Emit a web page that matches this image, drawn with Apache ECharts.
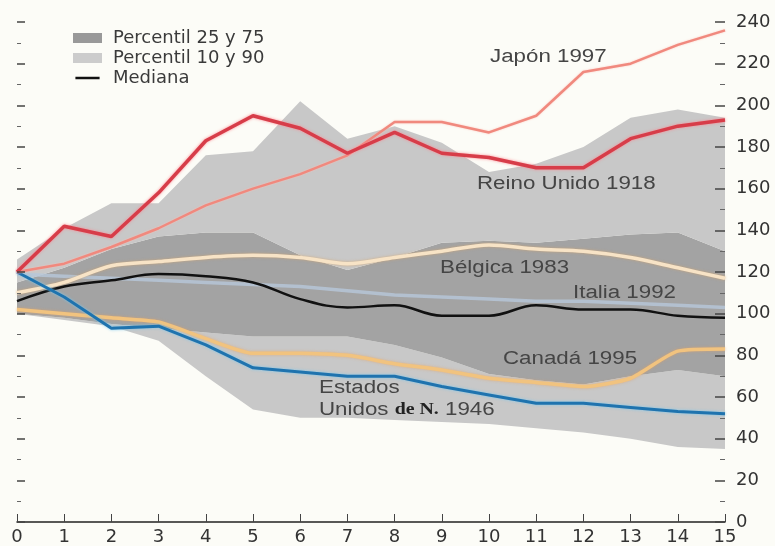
<!DOCTYPE html>
<html>
<head>
<meta charset="utf-8">
<script src="https://cdn.jsdelivr.net/npm/echarts@6/dist/echarts.min.js"></script>
<style>
html,body{margin:0;padding:0;background:#fcfcf7;}
#chart{width:775px;height:546px;}
</style>
</head>
<body>
<div id="chart"></div>
<script>
// ---- data ----
var years = ['0','1','2','3','4','5','6','7','8','9','10','11','12','13','14','15'];
var yTicks = [0,20,40,60,80,100,120,140,160,180,200,220,240];
var p10 = [100, 97, 94, 87, 70, 54, 50, 50, 49, 48, 47, 45, 43, 40, 36, 35];
var p25 = [100, 98, 95, 93, 91, 89, 89, 89, 85, 79, 71, 68, 66, 70, 73, 70];
var p75 = [115, 122, 131, 137, 139, 139, 128, 121, 127, 134, 135, 134, 136, 138, 139, 130];
var p90 = [126, 141, 153, 153, 176, 178, 202, 184, 190, 182, 168, 172, 180, 194, 198, 194];
var mediana = [106, 113, 116, 119, 118, 115, 107, 103, 104, 99, 99, 104, 102, 102, 99, 98];
var japon1997 = [120, 124, 132, 141, 152, 160, 167, 176, 192, 192, 187, 195, 216, 220, 229, 236];
var reinoUnido1918 = [120, 142, 137, 158, 183, 195, 189, 177, 187, 177, 175, 170, 170, 184, 190, 193];
var belgica1983 = [110, 115, 123, 125, 127, 128, 127, 124, 127, 130, 133, 131, 130, 127, 122, 117];
var italia1992 = [119, 118, 117, 116, 115, 114, 113, 111, 109, 108, 107, 106, 106, 105, 104, 103];
var canada1995 = [102, 100, 98, 96, 88, 81, 81, 80, 76, 73, 69, 67, 65, 69, 82, 83];
var eeuu1946 = [120, 108, 93, 94, 85, 74, 72, 70, 70, 65, 61, 57, 57, 55, 53, 52];

function diff(a, b) { return a.map(function (v, i) { return v - b[i]; }); }

var LIGHT = '#c8c8c8', DARK = '#a3a3a3';
var FONT = 'DejaVu Sans';

function band(name, data, color) {
  return {
    name: name, type: 'line', stack: 'band', data: data, symbol: 'none',
    lineStyle: { width: 0 }, itemStyle: { color: color },
    areaStyle: { color: color, opacity: 1 }, silent: true, z: 1
  };
}
function line(name, data, color, width, extra) {
  return {
    name: name, type: 'line', data: data, symbol: 'none', z: 3,
    lineStyle: Object.assign({ color: color, width: width }, extra || {}),
    itemStyle: { color: color }
  };
}

var chart = echarts.init(document.getElementById('chart'));

function label(text, x, y) {
  return {
    type: 'text', x: x, y: y, scaleX: 1.24, z: 100,
    style: { text: text, font: '18px "Liberation Sans"', fill: '#454545', verticalAlign: 'middle' }
  };
}

chart.setOption({
  backgroundColor: '#fcfcf7',
  animation: false,
  grid: { left: 17, right: 50, top: 22, bottom: 22 },
  legend: {
    left: 68, top: 23, orient: 'vertical', itemWidth: 29, itemHeight: 10, itemGap: 0,
    textStyle: { fontFamily: FONT, fontSize: 18, color: '#3a3a3a', lineHeight: 20, padding: [0, 0, 0, 6] },
    data: [
      { name: 'Percentil 25 y 75', icon: 'rect', itemStyle: { color: '#999999' } },
      { name: 'Percentil 10 y 90', icon: 'rect', itemStyle: { color: '#cccccc' } },
      { name: 'Mediana', icon: 'path://M0,0h0.05v0.05h-0.05z M0,4.6h29v2.8h-29z M28.95,11.95h0.05v0.05h-0.05z', itemStyle: { color: '#111' } }
    ]
  },
  xAxis: {
    type: 'category', data: years, boundaryGap: false, z: 10,
    axisLine: { lineStyle: { color: '#222', width: 1.5 } },
    axisTick: { show: true, inside: true, length: 8, alignWithLabel: true, lineStyle: { color: '#444' } },
    axisLabel: { fontFamily: FONT, fontSize: 18, color: '#333', margin: 6 },
    splitLine: { show: false }
  },
  yAxis: [
    {
      type: 'value', position: 'right', min: 0, max: 240, interval: 20, z: 10,
      axisLine: { show: false },
      axisTick: { show: true, inside: true, length: 10, lineStyle: { color: '#444', width: 1.5 } },
      minorTick: { show: true, splitNumber: 2, length: 5, lineStyle: { color: '#666' } },
      axisLabel: { fontFamily: FONT, fontSize: 18, color: '#333', margin: 11 },
      splitLine: { show: false }
    },
    {
      type: 'value', position: 'left', min: 0, max: 240, interval: 20, z: 10,
      axisLine: { show: false },
      axisTick: { show: true, inside: true, length: 8, lineStyle: { color: '#444', width: 1.5 } },
      minorTick: { show: true, splitNumber: 2, length: 4, lineStyle: { color: '#666' } },
      axisLabel: { show: false },
      splitLine: { show: false }
    }
  ],
  series: [
    band('base', p10, 'rgba(0,0,0,0)'),
    band('Percentil 10 y 90', diff(p25, p10), LIGHT),
    band('Percentil 25 y 75', diff(p75, p25), DARK),
    band('Percentil 10 y 90', diff(p90, p75), LIGHT),
    line('Italia 1992', italia1992, '#b7c7da', 3.5, { opacity: 0.8 }),
    Object.assign(line('Bélgica 1983', belgica1983, '#f7e3c6', 3.5, { shadowColor: 'rgba(215,165,105,0.7)', shadowBlur: 3 }), { smooth: 0.3 }),
    Object.assign(line('Canadá 1995', canada1995, '#f1c37f', 3.5, { shadowColor: 'rgba(235,160,90,0.6)', shadowBlur: 3 }), { smooth: 0.2 }),
    Object.assign(line('Mediana', mediana, '#111111', 2.5), { smooth: 0.4 }),
    line('Estados Unidos de N. 1946', eeuu1946, '#1f73ae', 3, { shadowColor: 'rgba(120,200,240,0.9)', shadowBlur: 3 }),
    line('Japón 1997', japon1997, '#f0897e', 2.5, { shadowColor: 'rgba(255,190,180,0.8)', shadowBlur: 2 }),
    line('Reino Unido 1918', reinoUnido1918, '#d73d49', 3.5, { shadowColor: 'rgba(255,130,140,0.9)', shadowBlur: 3 })
  ],
  graphic: [
    label('Japón 1997', 490, 57),
    label('Reino Unido 1918', 477, 184),
    label('Bélgica 1983', 440, 268),
    label('Italia 1992', 573, 293),
    label('Canadá 1995', 503, 359),
    label('Estados', 319, 388),
    {
      type: 'text', x: 319, y: 410, scaleX: 1.24, z: 100,
      style: {
        text: 'Unidos {b|de N.} 1946', font: '18px "Liberation Sans"', fill: '#454545', verticalAlign: 'middle',
        rich: { b: { fontFamily: 'Liberation Serif', fontWeight: 'bold', fontSize: 16, fill: '#222' } }
      }
    }
  ]
});
</script>
</body>
</html>
